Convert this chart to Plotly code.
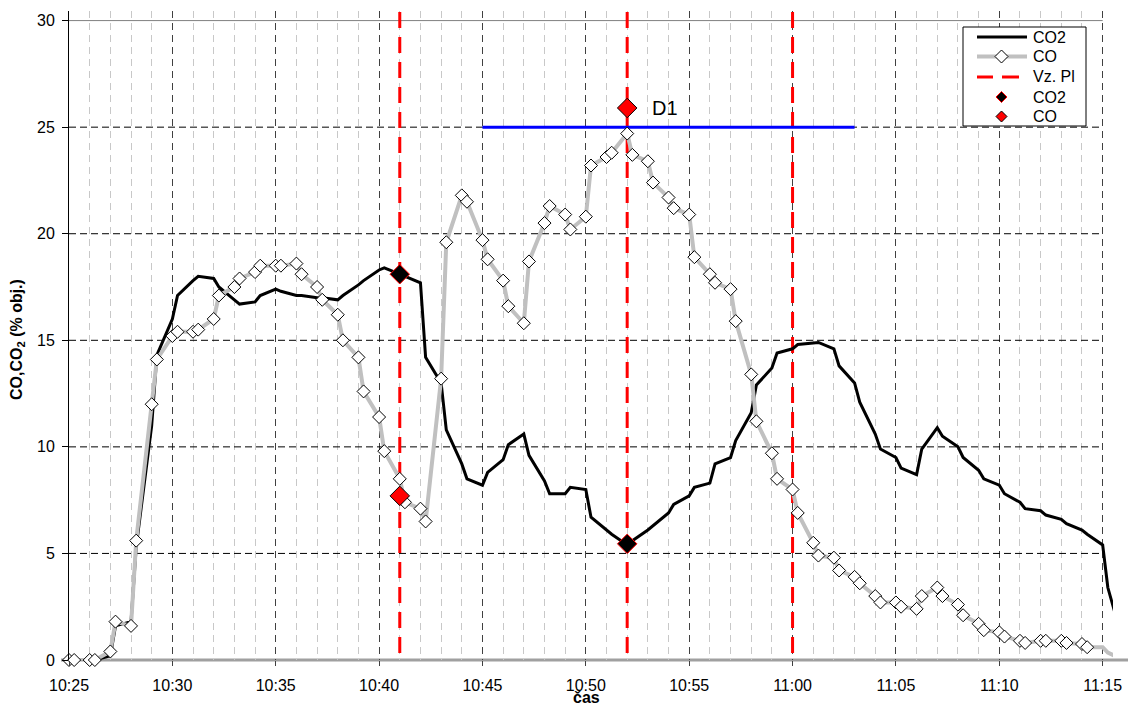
import plotly.graph_objects as go

DAY = "2024-01-01 "

TIME = [
    "10:25:00", "10:25:15", "10:26:00", "10:26:15", "10:27:00", "10:27:15", "10:28:00", "10:28:15", "10:29:00", "10:29:15",
    "10:30:00", "10:30:15", "10:31:00", "10:31:15", "10:32:00", "10:32:15", "10:33:00", "10:33:15", "10:34:00", "10:34:15",
    "10:35:00", "10:35:15", "10:36:00", "10:36:15", "10:37:00", "10:37:15", "10:38:00", "10:38:15", "10:39:00", "10:39:15",
    "10:40:00", "10:40:15", "10:41:00", "10:41:15", "10:42:00", "10:42:15", "10:43:00", "10:43:15", "10:44:00", "10:44:15",
    "10:45:00", "10:45:15", "10:46:00", "10:46:15", "10:47:00", "10:47:15", "10:48:00", "10:48:15", "10:49:00", "10:49:15",
    "10:50:00", "10:50:15", "10:51:00", "10:51:15", "10:52:00", "10:52:15", "10:53:00", "10:53:15", "10:54:00", "10:54:15",
    "10:55:00", "10:55:15", "10:56:00", "10:56:15", "10:57:00", "10:57:15", "10:58:00", "10:58:15", "10:59:00", "10:59:15",
    "11:00:00", "11:00:15", "11:01:00", "11:01:15", "11:02:00", "11:02:15", "11:03:00", "11:03:15", "11:04:00", "11:04:15",
    "11:05:00", "11:05:15", "11:06:00", "11:06:15", "11:07:00", "11:07:15", "11:08:00", "11:08:15", "11:09:00", "11:09:15",
    "11:10:00", "11:10:15", "11:11:00", "11:11:15", "11:12:00", "11:12:15", "11:13:00", "11:13:15", "11:14:00", "11:14:15",
    "11:15:00", "11:15:15", "11:16:00",
]

CO2 = [
    0.0, 0.0, 0.0, 0.0, 0.2, 1.6, 1.8, 5.3, 11.0, 14.3,
    16.0, 17.1, 17.8, 18.0, 17.9, 17.5, 16.9, 16.7, 16.8, 17.1,
    17.4, 17.3, 17.1, 17.1, 17.0, 17.0, 16.9, 17.1, 17.6, 17.8,
    18.3, 18.4, 18.1, 18.0, 17.7, 14.2, 13.0, 10.8, 9.2, 8.5,
    8.2, 8.8, 9.4, 10.1, 10.6, 9.6, 8.4, 7.8, 7.8, 8.1,
    8.0, 6.7, 6.1, 5.9, 5.4, 5.6, 6.1, 6.3, 6.9, 7.3,
    7.7, 8.1, 8.3, 9.2, 9.5, 10.3, 11.6, 12.9, 13.7, 14.4,
    14.6, 14.8, 14.9, 14.9, 14.6, 13.8, 13.0, 12.1, 10.6, 9.9,
    9.5, 9.0, 8.7, 9.9, 10.9, 10.5, 10.0, 9.5, 8.9, 8.5,
    8.2, 7.8, 7.4, 7.1, 7.0, 6.8, 6.6, 6.4, 6.1, 5.9,
    5.4, 3.4, 0.8,
]

CO = [
    0.0, 0.0, 0.0, 0.0, 0.4, 1.8, 1.6, 5.6, 12.0, 14.1,
    15.2, 15.4, 15.4, 15.5, 16.0, 17.1, 17.5, 17.9, 18.2, 18.5,
    18.5, 18.5, 18.6, 18.1, 17.5, 16.9, 16.2, 15.0, 14.2, 12.6,
    11.4, 9.8, 8.5, 7.4, 7.1, 6.5, 13.2, 19.6, 21.8, 21.5,
    19.7, 18.8, 17.8, 16.6, 15.8, 18.7, 20.5, 21.3, 20.9, 20.2,
    20.8, 23.2, 23.6, 23.8, 24.7, 23.7, 23.4, 22.4, 21.7, 21.2,
    20.9, 18.9, 18.1, 17.7, 17.4, 15.9, 13.4, 11.2, 9.7, 8.5,
    8.0, 6.9, 5.5, 4.9, 4.8, 4.2, 3.9, 3.6, 3.0, 2.7,
    2.7, 2.5, 2.4, 3.0, 3.4, 3.0, 2.6, 2.1, 1.7, 1.4,
    1.3, 1.1, 0.9, 0.8, 0.9, 0.9, 0.9, 0.8, 0.75, 0.6,
    0.6, 0.35, 0.0,
]
CO_MARKED = 100  # samples shown with markers (up to 11:14:15)

VZ_TIMES = ["10:41:00", "10:52:00", "11:00:00"]
VZ_RANGE = [30.4, 0.0]

PT_TIMES = ["10:41:00", "10:52:00"]
PT_CO2 = [18.1, 5.45]
PT_CO = [7.7, 25.9]

D1_START, D1_END, D1_LEVEL = "10:45:00", "11:03:00", 25.0
D1_LABEL_TIME, D1_LABEL_Y = "10:53:51", 25.9

X_RANGE = ["10:25:00", "11:15:30"]
GRID_END = "11:15:00"
Y_GRID = [5, 10, 15, 20, 25]
Y_TOP = 30

LEGEND_LABELS = ["CO2", "CO", "Vz. Pl", "CO2", "CO"]

FONT = "Liberation Sans, Arial, sans-serif"
W, H = 1128, 703
ML, MR, MT, MB = 69, 15, 11, 43
PW, PH = W - ML - MR, H - MT - MB

t = [DAY + s for s in TIME]


def px(x):
    return (x - ML) / PW


def py(y):
    return (H - MB - y) / PH


fig = go.Figure()

vx, vy = [], []
for s in VZ_TIMES:
    vx += [DAY + s, DAY + s, None]
    vy += [VZ_RANGE[0], VZ_RANGE[1], None]
fig.add_trace(go.Scatter(x=vx, y=vy, mode="lines", name="Vz. Pl",
                         line=dict(color="#FF0000", width=3, dash="16px,9px"),
                         cliponaxis=False))

fig.add_trace(go.Scatter(x=[DAY + D1_START, DAY + D1_END], y=[D1_LEVEL, D1_LEVEL],
                         mode="lines", line=dict(color="#0000FF", width=3), name="D1"))

fig.add_trace(go.Scatter(x=t, y=CO2, mode="lines", name="CO2",
                         line=dict(color="#000000", width=3)))

fig.add_trace(go.Scatter(x=t[CO_MARKED - 1:], y=CO[CO_MARKED - 1:], mode="lines",
                         line=dict(color="#C0C0C0", width=4), name="CO"))

fig.add_trace(go.Scatter(x=t[:CO_MARKED], y=CO[:CO_MARKED], mode="lines+markers", name="CO",
                         line=dict(color="#C0C0C0", width=4),
                         marker=dict(symbol="diamond", size=10, color="white",
                                     line=dict(color="black", width=1)),
                         cliponaxis=False))

fig.add_trace(go.Scatter(x=[DAY + s for s in PT_TIMES], y=PT_CO2, mode="markers", name="CO2",
                         marker=dict(symbol="diamond", size=15, color="black",
                                     line=dict(color="#FF0000", width=1)),
                         cliponaxis=False))

fig.add_trace(go.Scatter(x=[DAY + s for s in PT_TIMES], y=PT_CO, mode="markers", name="CO",
                         marker=dict(symbol="diamond", size=15, color="#FF0000",
                                     line=dict(color="black", width=1)),
                         cliponaxis=False))

shapes = []
for g in Y_GRID:
    shapes.append(dict(type="line", xref="x", yref="y", x0=DAY + X_RANGE[0], x1=DAY + GRID_END,
                       y0=g, y1=g, layer="between",
                       line=dict(color="#000000", width=1, dash="7px,4px")))
shapes.append(dict(type="line", xref="x", yref="y", x0=DAY + X_RANGE[0], x1=DAY + GRID_END,
                   y0=Y_TOP, y1=Y_TOP, layer="between", line=dict(color="#808080", width=1)))
shapes.append(dict(type="line", xref="paper", yref="paper", x0=px(61), x1=px(1140), y0=0, y1=0,
                   layer="between", line=dict(color="#A0A0A0", width=3)))

# ---- hand-drawn legend box (pixel layout) ----
LX0, LX1, LY0, LY1 = 963, 1086, 27, 126
ROWS = [37, 56.5, 77, 97, 116.5]
S0, S1, SC, TX = 977, 1027, 1001.5, 1031
shapes.append(dict(type="rect", xref="paper", yref="paper", x0=px(LX0), x1=px(LX1),
                   y0=py(LY1), y1=py(LY0), fillcolor="white", layer="above",
                   line=dict(color="black", width=1)))


def diamond(cx, cy, r, fill, edge):
    path = (f"M {px(cx)},{py(cy - r)} L {px(cx + r)},{py(cy)} "
            f"L {px(cx)},{py(cy + r)} L {px(cx - r)},{py(cy)} Z")
    return dict(type="path", xref="paper", yref="paper", path=path, fillcolor=fill,
                layer="above", line=dict(color=edge, width=1))


shapes.append(dict(type="line", xref="paper", yref="paper", x0=px(S0), x1=px(S1),
                   y0=py(ROWS[0]), y1=py(ROWS[0]), layer="above",
                   line=dict(color="black", width=3)))
shapes.append(dict(type="line", xref="paper", yref="paper", x0=px(S0), x1=px(S1),
                   y0=py(ROWS[1]), y1=py(ROWS[1]), layer="above",
                   line=dict(color="#C0C0C0", width=4)))
shapes.append(diamond(SC, ROWS[1], 6.5, "white", "black"))
shapes.append(dict(type="line", xref="paper", yref="paper", x0=px(S0), x1=px(993),
                   y0=py(ROWS[2]), y1=py(ROWS[2]), layer="above",
                   line=dict(color="#FF0000", width=3)))
shapes.append(dict(type="line", xref="paper", yref="paper", x0=px(1002), x1=px(1019),
                   y0=py(ROWS[2]), y1=py(ROWS[2]), layer="above",
                   line=dict(color="#FF0000", width=3)))
shapes.append(diamond(SC, ROWS[3], 5.5, "black", "#FF0000"))
shapes.append(diamond(SC, ROWS[4], 5.5, "#FF0000", "black"))

annotations = [
    dict(text="D1", x=DAY + D1_LABEL_TIME, y=D1_LABEL_Y, xref="x", yref="y",
         showarrow=False, font=dict(family=FONT, size=20, color="black")),
    dict(text="<b>CO,CO<sub>2</sub> (% obj.)</b>", textangle=-90, xref="paper", yref="paper",
         x=0, y=py(340), xanchor="center", yanchor="middle", xshift=-51, showarrow=False,
         font=dict(family=FONT, size=16, color="black")),
    dict(text="<b>čas</b>", xref="paper", yref="paper", x=px(586), y=0, yanchor="top",
         yshift=-27, showarrow=False, font=dict(family=FONT, size=16, color="black")),
]
for lab, ry in zip(LEGEND_LABELS, ROWS):
    annotations.append(dict(text=lab, xref="paper", yref="paper", x=px(TX), y=py(ry),
                            xanchor="left", yanchor="middle", showarrow=False,
                            font=dict(family=FONT, size=16, color="black")))

fig.update_layout(
    width=W, height=H,
    margin=dict(l=ML, r=MR, t=MT, b=MB, autoexpand=False),
    paper_bgcolor="white", plot_bgcolor="white",
    font=dict(family=FONT, size=16, color="black"),
    shapes=shapes,
    showlegend=False,
    annotations=annotations,
)

fig.update_xaxes(
    type="date", range=[DAY + X_RANGE[0], DAY + X_RANGE[1]], automargin=False,
    tickformat="%H:%M", tick0=DAY + X_RANGE[0], dtick=300000,
    showgrid=True, gridcolor="#404040", gridwidth=1, griddash="7px,5px",
    minor=dict(dtick=60000, tick0=DAY + X_RANGE[0], showgrid=True, gridcolor="#C8C8C8",
               griddash="7px,5px", gridwidth=1, ticks=""),
    ticks="outside", ticklen=5, tickcolor="#404040", tickwidth=1,
    ticklabelstandoff=6,
    showline=False, zeroline=False,
)
fig.update_yaxes(
    range=[0, 30.45], tick0=0, dtick=5, automargin=False,
    showgrid=False, zeroline=False,
    ticks="outside", ticklen=6, tickcolor="black", tickwidth=1,
    ticklabelstandoff=4,
    showline=True, linecolor="black", linewidth=1,
)

fig.write_html("out.html")
